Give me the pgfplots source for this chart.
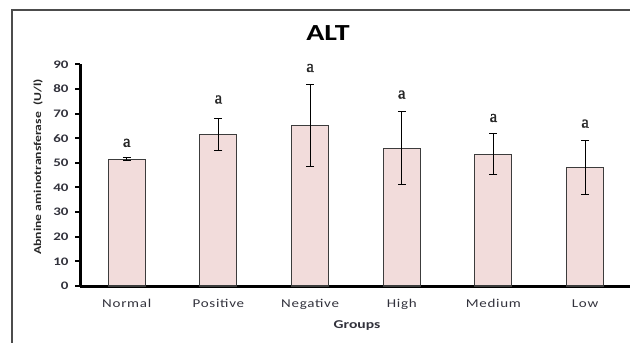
\documentclass[border=0pt]{standalone}
\usepackage{fontspec}
\usepackage{pgfplots}
\pgfplotsset{compat=1.18}
\setmainfont{Carlito}[FakeStretch=1.3]
\newfontfamily\spaced{Carlito}[FakeStretch=1.25, LetterSpace=6]
\newfontfamily\serifa{Liberation Serif}[FakeBold=1.5]
\definecolor{barfill}{RGB}{242,220,219}
\definecolor{baredge}{RGB}{60,60,60}
\definecolor{txt}{RGB}{50,50,60}
\begin{document}
\begin{tikzpicture}[x=1bp,y=1bp]
\useasboundingbox (0,0) rectangle (630,342);
\draw[line width=1.5bp, black!70] (12,-5) -- (12,332) -- (640,332);
\begin{axis}[
  at={(80bp,56bp)}, anchor=south west,
  scale only axis, width=550bp, height=221.7bp,
  xmin=-0.51, xmax=5.49, ymin=0, ymax=90,
  axis x line=bottom, axis y line=left,
  axis line style={-, line width=3bp, black},
  ytick={0,10,...,90},
  xtick={0,1,2,3,4,5},
  xticklabels={Normal,Positive,Negative,High,Medium,Low},
  x tick style={draw=none},
  y tick style={line width=2bp, black},
  tick align=outside, major tick length=5bp,
  yticklabel style={font=\fontsize{11.5bp}{12bp}\selectfont\bfseries, text=txt, xshift=-3bp},
  xticklabel style={font=\spaced\fontsize{12bp}{13bp}\selectfont, text=txt, yshift=-5bp},
  /pgf/number format/assume math mode=true,
  clip=false,
]
\addplot[ybar, bar width=37bp, fill=barfill, draw=baredge, line width=1.1bp,
  error bars/.cd, y dir=both, y explicit,
  error bar style={line width=1.1bp, black},
  error mark options={rotate=90, mark size=4bp, line width=1.1bp, black}]
  coordinates {
  (0,51.4) +- (0,0.6)
  (1,61.5) +- (0,6.4)
  (2,65.2) +- (0,16.7)
  (3,56.0) +- (0,14.7)
  (4,53.5) +- (0,8.4)
  (5,48.1) +- (0,11.1)
  };
\foreach \xx/\yy in {0/58.1,1/75.7,2/88.5,3/77.7,4/68.2,5/65.9}{
  \edef\temp{\noexpand\node[font=\noexpand\serifa\noexpand\fontsize{17bp}{18bp}\noexpand\selectfont, text=black!85, inner sep=0pt] at (axis cs:\xx,\yy) {a};}
  \temp
}
\end{axis}
\node[font=\fontsize{23bp}{25bp}\selectfont\bfseries] at (328,309) {ALT};
\node[rotate=90, font=\fontsize{10.5bp}{12bp}\selectfont\bfseries, text=black!85] at (38,175) {Abnine aminotransferase\ \ (U/l)};
\node[font=\fontsize{12bp}{13bp}\selectfont\bfseries, text=txt] at (357,16) {Groups};
\end{tikzpicture}
\end{document}
